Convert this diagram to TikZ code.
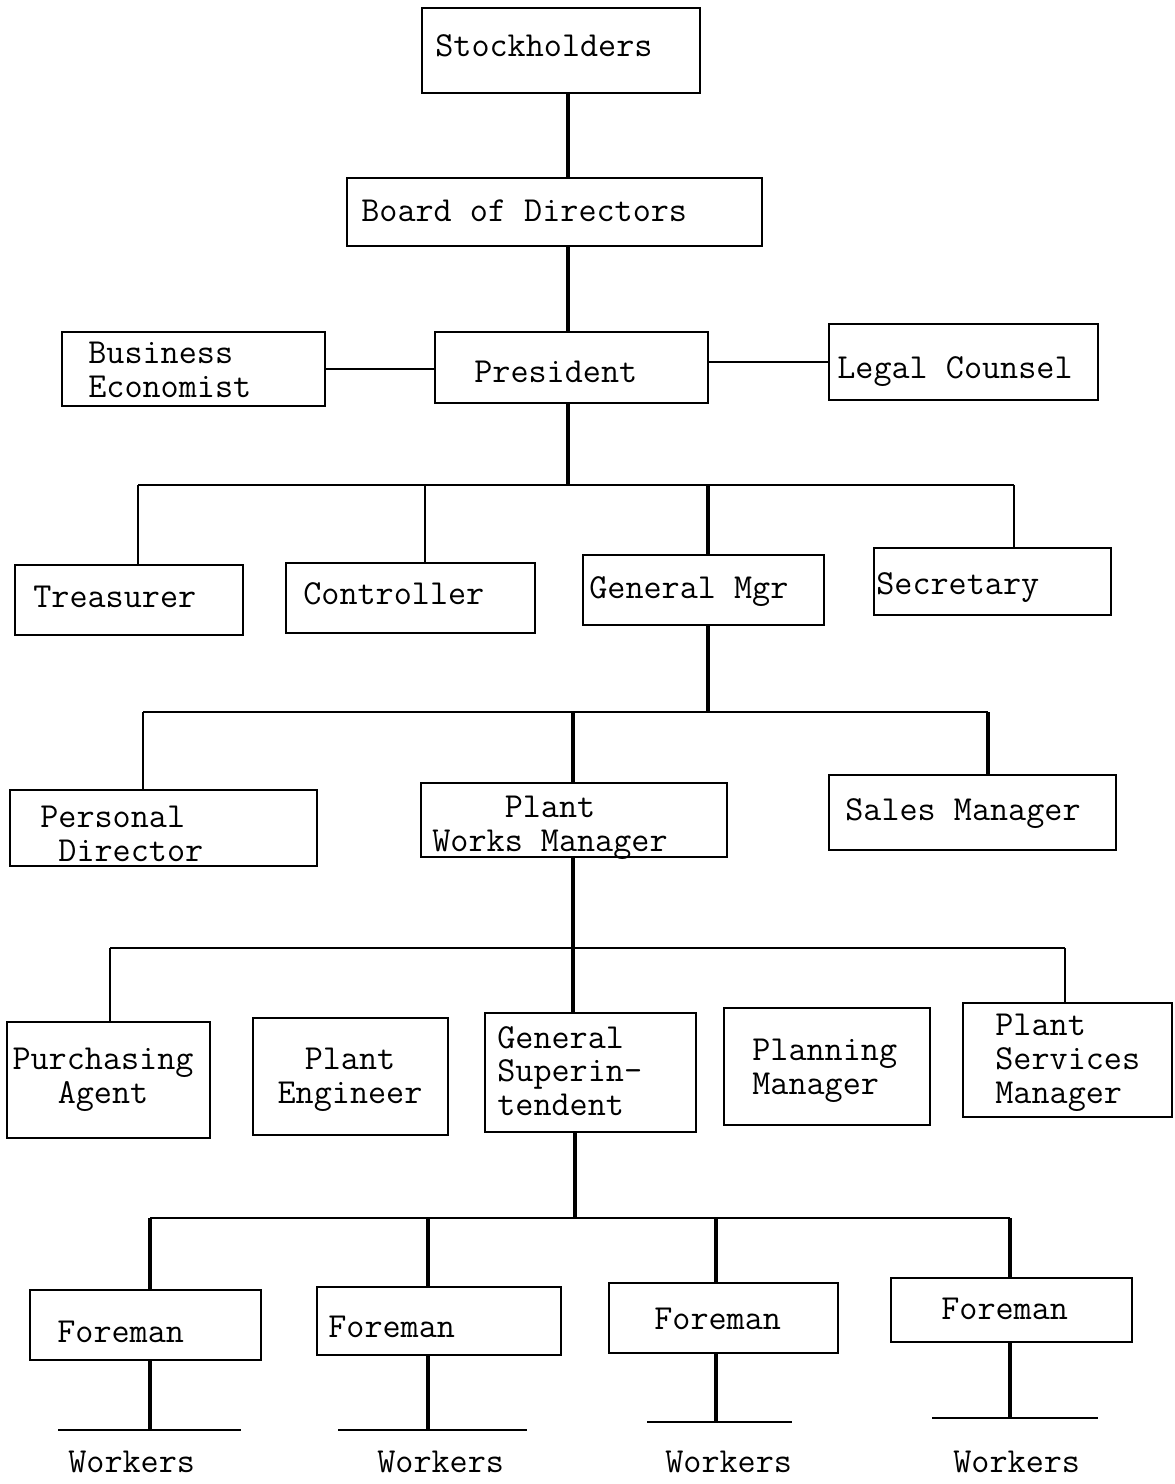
\documentclass[tikz,border=0pt]{standalone}
\usepackage{fontspec}
\usetikzlibrary{fit}
\begin{document}
\begin{tikzpicture}[x=0.02cm,y=-0.02cm,
  box/.style={draw, line width=0.8pt, inner sep=0pt},
  lbl/.style={font=\ttfamily\fontsize{20}{19.2}\selectfont, inner sep=0pt, anchor=west, align=left},
  clbl/.style={lbl, anchor=center, align=center},
  spine/.style={line width=2.2pt},
  link/.style={line width=1pt}]
\useasboundingbox (0,0) rectangle (1175,1484);
% boxes
\node[box, fit={(422,8) (700,93)}] (stock) {};
\node[box, fit={(347,178) (762,246)}] (board) {};
\node[box, fit={(435,332) (708,403)}] (pres) {};
\node[box, fit={(62,332) (325,406)}] (econ) {};
\node[box, fit={(829,324) (1098,400)}] (legal) {};
\node[box, fit={(15,565) (243,635)}] (treas) {};
\node[box, fit={(286,563) (535,633)}] (ctrl) {};
\node[box, fit={(583,555) (824,625)}] (gm) {};
\node[box, fit={(874,548) (1111,615)}] (sec) {};
\node[box, fit={(10,790) (317,866)}] (pers) {};
\node[box, fit={(421,783) (727,857)}] (pwm) {};
\node[box, fit={(829,775) (1116,850)}] (sales) {};
\node[box, fit={(7,1022) (210,1138)}] (purch) {};
\node[box, fit={(253,1018) (448,1135)}] (peng) {};
\node[box, fit={(485,1013) (696,1132)}] (gs) {};
\node[box, fit={(724,1008) (930,1125)}] (plan) {};
\node[box, fit={(963,1003) (1172,1117)}] (psm) {};
\node[box, fit={(30,1290) (261,1360)}] (f1) {};
\node[box, fit={(317,1287) (561,1355)}] (f2) {};
\node[box, fit={(609,1283) (838,1353)}] (f3) {};
\node[box, fit={(891,1278) (1132,1342)}] (f4) {};
% texts
\node[lbl] (t-stock) at (435,46) {Stockholders};
\node[lbl] (t-board) at (361,211) {Board of Directors};
\node[lbl] (t-pres) at (474,372) {President};
\node[lbl] (t-econ) at (88,370) {Business\\Economist};
\node[lbl] (t-legal) at (837,372) {Legal Counsel};
\node[lbl] (t-treas) at (33,597) {Treasurer};
\node[lbl] (t-ctrl) at (303,594) {Controller};
\node[lbl] (t-gm) at (589,592) {General Mgr};
\node[lbl] (t-sec) at (876,588) {Secretary};
\node[lbl] (t-pers) at (40,834) {Personal\\~Director};
\node[clbl] (t-pwm) at (550,828) {Plant\\Works Manager};
\node[lbl] (t-sales) at (845,814) {Sales Manager};
\node[clbl] (t-purch) at (103,1080) {Purchasing\\Agent};
\node[clbl] (t-peng) at (350,1080) {Plant\\Engineer};
\node[lbl] (t-gs) at (497,1071) {General\\Superin-\\tendent};
\node[lbl] (t-plan) at (752,1071) {Planning\\Manager};
\node[lbl] (t-psm) at (995,1063) {Plant\\Services\\Manager};
\node[lbl] (t-f1) at (57,1332) {Foreman};
\node[lbl] (t-f2) at (328,1327) {Foreman};
\node[lbl] (t-f3) at (654,1319) {Foreman};
\node[lbl] (t-f4) at (941,1309) {Foreman};
\node[lbl] (w1) at (68,1462) {Workers};
\node[lbl] (w2) at (377,1462) {Workers};
\node[lbl] (w3) at (665,1462) {Workers};
\node[lbl] (w4) at (953,1462) {Workers};
% junction coordinates
\coordinate (s1) at (568,485);
\coordinate (h1l) at (138,485);
\coordinate (h1c) at (425,485);
\coordinate (h1g) at (708,485);
\coordinate (h1r) at (1014,485);
\coordinate (h2g) at (708,712);
\coordinate (h2l) at (143,712);
\coordinate (h2p) at (573,712);
\coordinate (h2r) at (988,712);
\coordinate (h3c) at (573,948);
\coordinate (h3l) at (110,948);
\coordinate (h3r) at (1065,948);
\coordinate (h4c) at (575,1218);
\coordinate (h4a) at (150,1218);
\coordinate (h4b) at (428,1218);
\coordinate (h4d) at (716,1218);
\coordinate (h4e) at (1010,1218);
\coordinate (wl1) at (58,1430);  \coordinate (wr1) at (241,1430);
\coordinate (wl2) at (338,1430); \coordinate (wr2) at (527,1430);
\coordinate (wl3) at (647,1422); \coordinate (wr3) at (792,1422);
\coordinate (wl4) at (932,1418); \coordinate (wr4) at (1098,1418);
% connectors
\draw[spine] (stock.south -| s1) -- (board.north -| s1);
\draw[spine] (board.south -| s1) -- (pres.north -| s1);
\draw[link] (econ.east) -- (econ.east -| pres.west);
\draw[link] (pres.east |- legal.west) -- (legal.west);
\draw[spine] (pres.south -| s1) -- (s1);
\draw[link] (h1l) -- (h1r);
\draw[link] (h1l) -- (treas.north -| h1l);
\draw[link] (h1c) -- (ctrl.north -| h1c);
\draw[spine] (h1g) -- (gm.north -| h1g);
\draw[link] (h1r) -- (sec.north -| h1r);
\draw[spine] (gm.south -| h2g) -- (h2g);
\draw[link] (h2l) -- (h2r);
\draw[link] (h2l) -- (pers.north -| h2l);
\draw[spine] (h2p) -- (pwm.north -| h2p);
\draw[spine] (h2r) -- (sales.north -| h2r);
\draw[spine] (pwm.south -| h3c) -- (gs.north -| h3c);
\draw[link] (h3l) -- (h3r);
\draw[link] (h3l) -- (purch.north -| h3l);
\draw[link] (h3r) -- (psm.north -| h3r);
\draw[spine] (gs.south -| h4c) -- (h4c);
\draw[line width=1.6pt] (h4a) -- (h4e);
\draw[spine] (h4a) -- (f1.north -| h4a);
\draw[spine] (h4b) -- (f2.north -| h4b);
\draw[spine] (h4d) -- (f3.north -| h4d);
\draw[spine] (h4e) -- (f4.north -| h4e);
\draw[spine] (f1.south -| h4a) -- (h4a |- wl1);
\draw[spine] (f2.south -| h4b) -- (h4b |- wl2);
\draw[spine] (f3.south -| h4d) -- (h4d |- wl3);
\draw[spine] (f4.south -| h4e) -- (h4e |- wl4);
\draw[link] (wl1) -- (wr1);
\draw[link] (wl2) -- (wr2);
\draw[link] (wl3) -- (wr3);
\draw[link] (wl4) -- (wr4);
\end{tikzpicture}
\end{document}
